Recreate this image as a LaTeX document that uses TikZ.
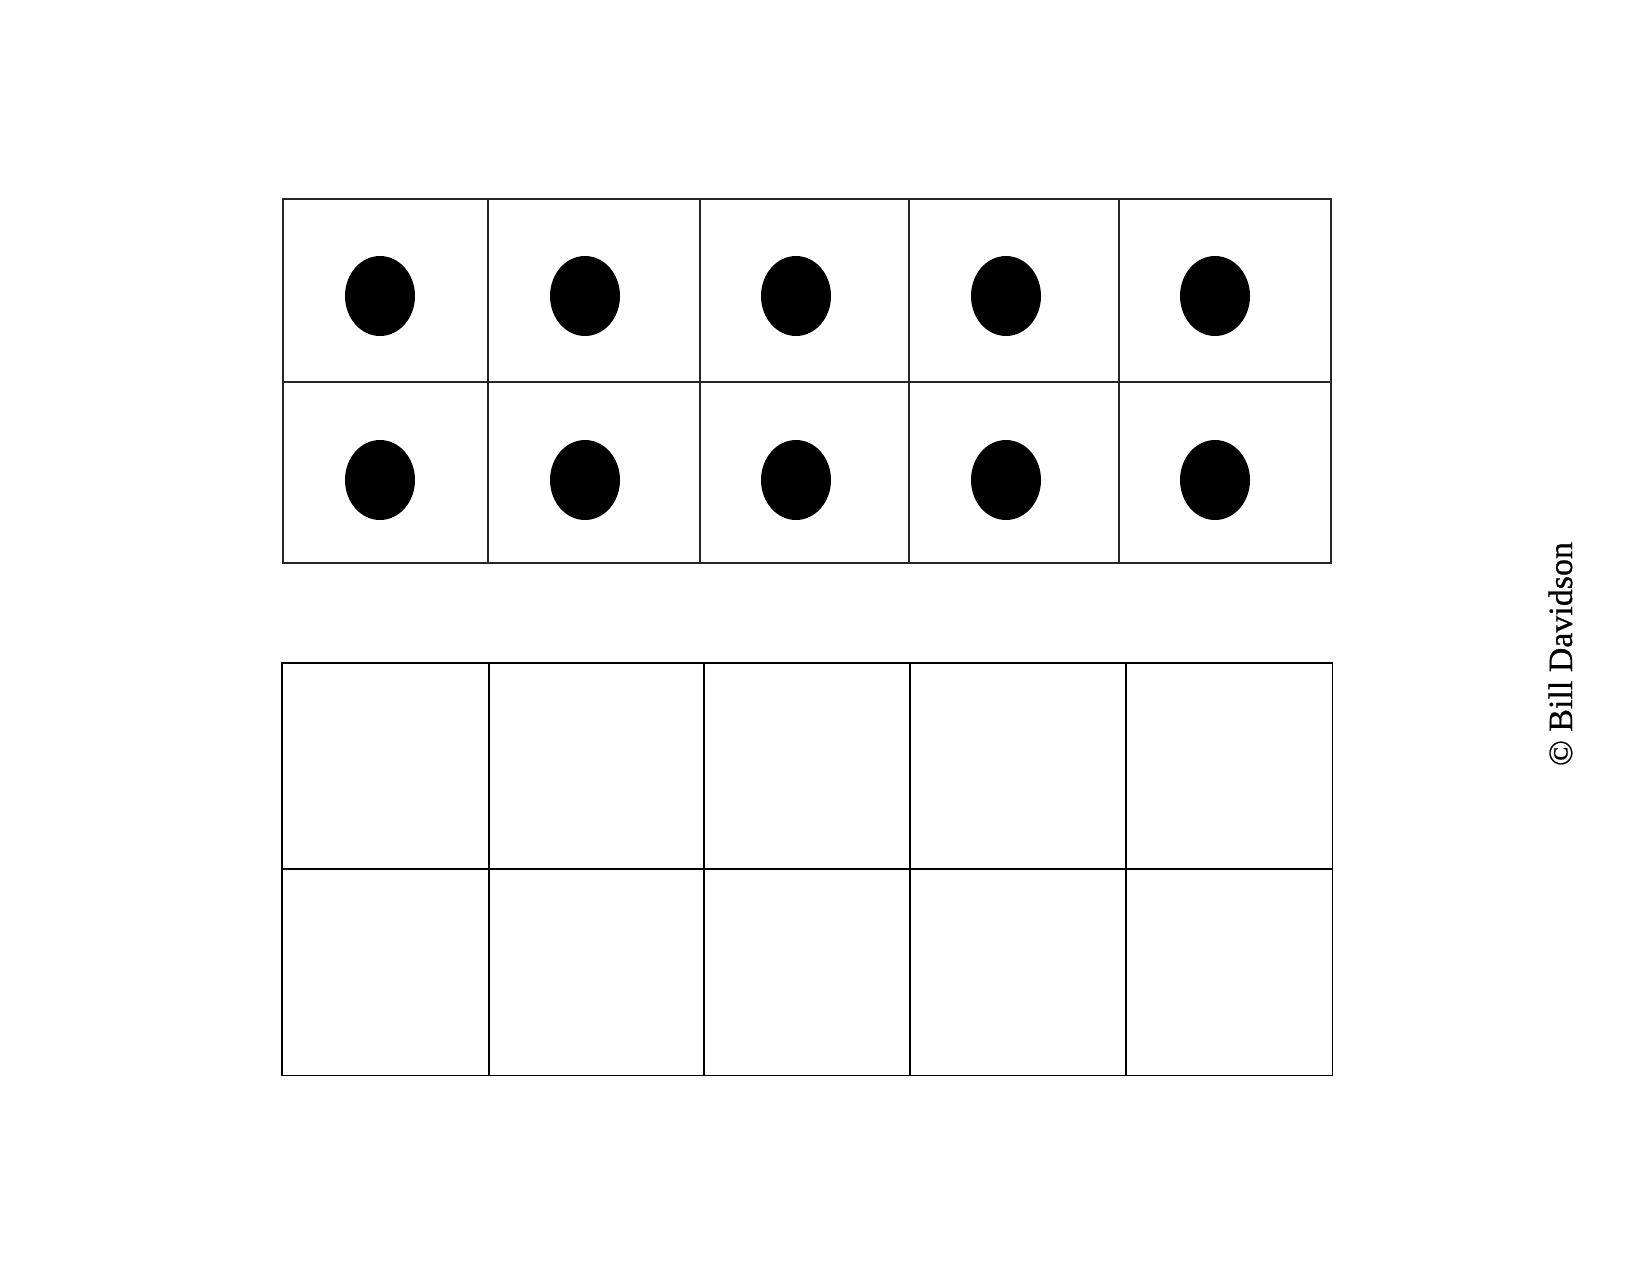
\documentclass[tikz,border=0pt]{standalone}
\usepackage{fontspec}
\setmainfont{Liberation Serif}
\newfontfamily\copyfont[FakeBold=0.6]{Liberation Serif}
\begin{document}
\begin{tikzpicture}[x=0.48pt,y=-0.48pt,
  topgrid/.style={draw=black!85,line width=1pt},
  botgrid/.style={draw=black,line width=0.5pt},
  dot/.style={fill=black,draw=none}]
\useasboundingbox (0,0) rectangle (1650,1275);
% top ten-frame
\draw[topgrid] (283,199) rectangle (1331,563);
\draw[topgrid] (283,382) -- (1331,382);
\foreach \x in {488,700,909,1119} \draw[topgrid] (\x,199) -- (\x,563);
\foreach \x in {380,585,796,1006,1215}{
  \fill[dot] (\x,296) ellipse [x radius=35, y radius=40];
  \fill[dot] (\x,480) ellipse [x radius=35, y radius=40];
}
% bottom ten-frame
\draw[botgrid] (282,663) rectangle (1332,1075);
\draw[botgrid] (282,869) -- (1332,869);
\foreach \x in {489,704,910,1126} \draw[botgrid] (\x,663) -- (\x,1075);
% copyright
\node[rotate=90,anchor=base,inner sep=0pt,font=\copyfont\fontsize{16.3}{19}\selectfont] (copy) at (1572,654) {© Bill Davidson};
\end{tikzpicture}
\end{document}
